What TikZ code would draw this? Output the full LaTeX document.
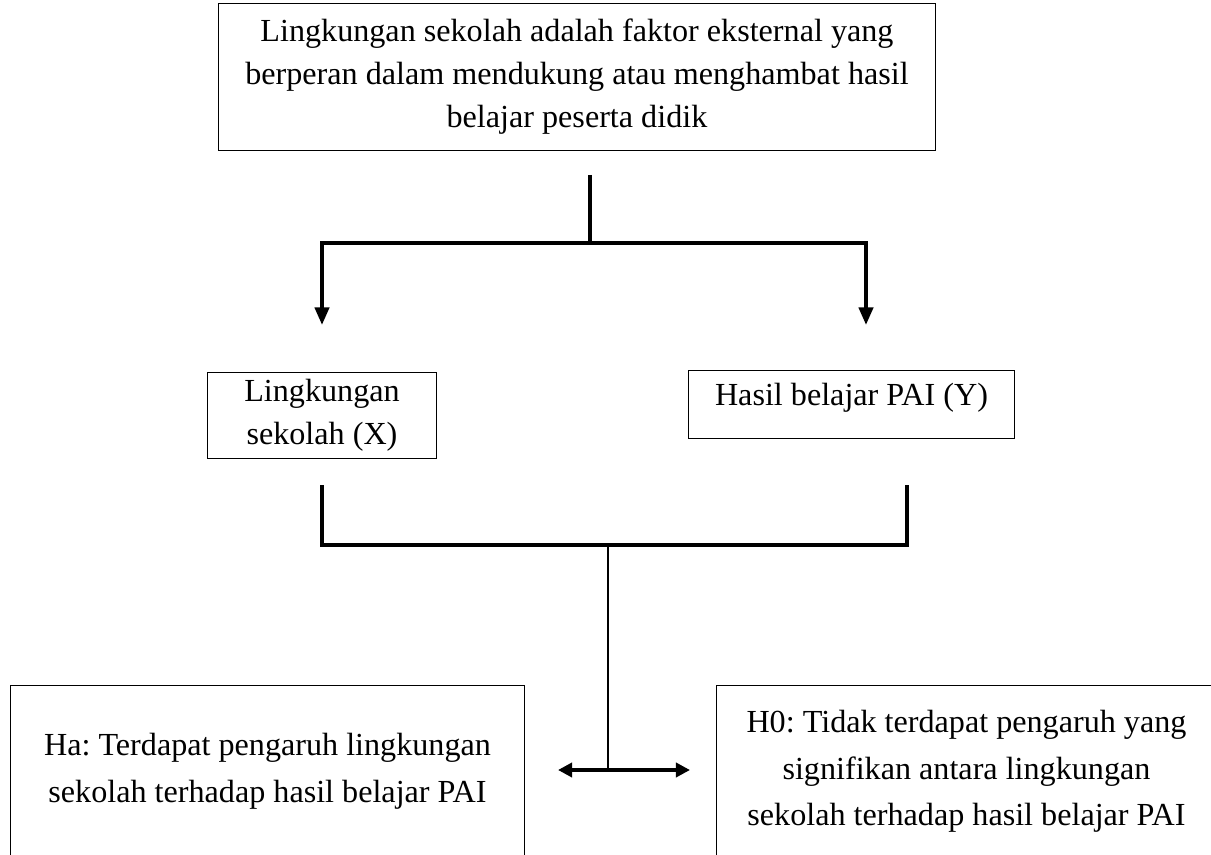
\documentclass[tikz,border=0pt]{standalone}
\usepackage{fontspec}
\setmainfont{Liberation Serif}
\usetikzlibrary{arrows.meta}
\frenchspacing
\begin{document}
\begin{tikzpicture}[x=0.02cm, y=-0.02cm,
    box/.style  = {draw, line width=0.6pt, align=center, inner sep=0, anchor=north west, font=\fontsize{18.3}{24.5}\selectfont},
    wide/.style = {font=\fontsize{18.3}{26.5}\selectfont},
    link/.style = {line width=2.2pt},
    tip/.style  = {-{Triangle[width=8pt,length=10pt]}}]
    \useasboundingbox (0,0) rectangle (1211,855);

    \node[box, minimum width=14.34cm, minimum height=2.94cm] (cause) at (218,3)
      {Lingkungan sekolah adalah faktor eksternal yang\\berperan dalam mendukung atau menghambat hasil\\belajar peserta didik};
    \node[box, minimum width=4.58cm, minimum height=1.72cm] (X) at (207,372) {Lingkungan\\sekolah (X)};
    \node[box, minimum width=6.52cm, text height=0.7cm, text depth=0.66cm] (Y) at (688,370) {Hasil belajar PAI (Y)};
    \node[box, wide, minimum width=10.28cm, minimum height=3.44cm] (Ha) at (10,685)
      {Ha: Terdapat pengaruh lingkungan\\sekolah terhadap hasil belajar PAI};
    \node[box, wide, minimum width=10cm, minimum height=3.44cm] (H0) at (716,685)
      {H0: Tidak terdapat pengaruh yang\\signifikan antara lingkungan\\sekolah terhadap hasil belajar PAI};

    \coordinate (top)  at (590,175);
    \coordinate (fork) at (590,243);
    \coordinate (xin)  at (322,325);
    \coordinate (yin)  at (866,325);
    \coordinate (xout) at (322,485);
    \coordinate (yout) at (907,485);
    \coordinate (join) at (608,545);
    \coordinate (hub)  at (608,770);
    \coordinate (haend) at (558,770);
    \coordinate (h0end) at (690,770);

    \draw[link] (top) -- (fork);
    \draw[link, tip] (fork) -| (xin);
    \draw[link, tip] (fork) -| (yin);
    \draw[link] (xout) |- (join);
    \draw[link] (yout) |- (join);
    \draw[line width=1.4pt] (join) -- (hub);
    \draw[link, {Triangle[width=8pt,length=8pt]}-{Triangle[width=8pt,length=8pt]}] (haend) -- (h0end);
\end{tikzpicture}
\end{document}
